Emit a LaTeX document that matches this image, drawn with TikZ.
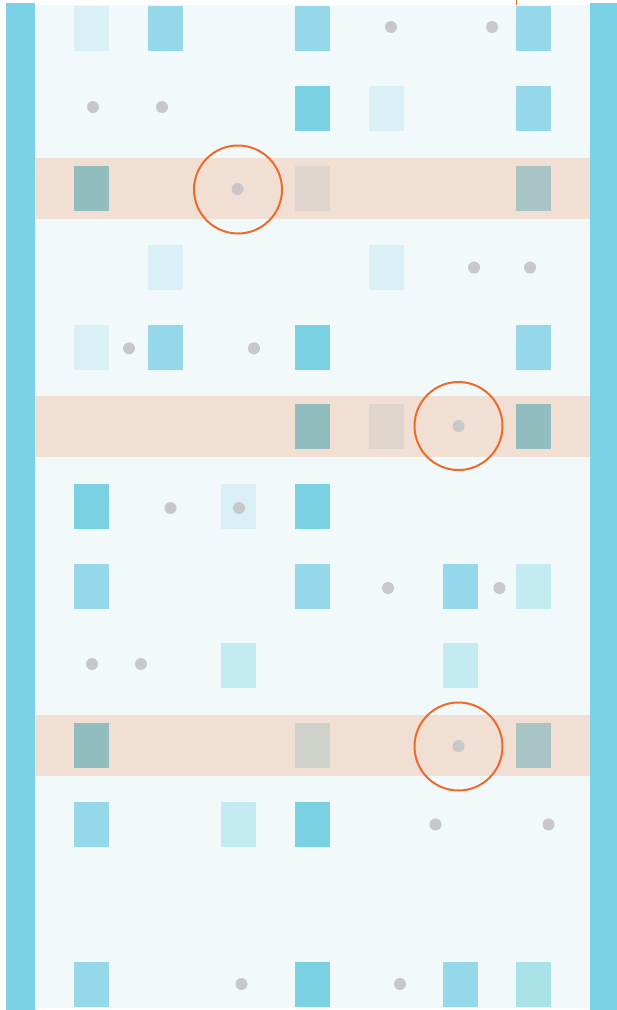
\documentclass[tikz,border=0pt]{standalone}
\definecolor{barc}{HTML}{7BD1E5}
\definecolor{bgc}{HTML}{F1F9FB}
\definecolor{bandc}{HTML}{F2DFD3}
\definecolor{palec}{HTML}{D9F1F6}
\definecolor{medc}{HTML}{95D8EA}
\definecolor{strongc}{HTML}{7AD1E4}
\definecolor{lightc}{HTML}{C4EBF1}
\definecolor{aquac}{HTML}{AAE2EA}
\definecolor{tealc}{HTML}{91BDBE}
\definecolor{beigec}{HTML}{DFD5CC}
\definecolor{greytealc}{HTML}{A9C4C5}
\definecolor{greyishc}{HTML}{CED2CB}
\definecolor{dotc}{HTML}{C8C8C8}
\definecolor{orangec}{HTML}{EE6A2A}
\begin{document}
\begin{tikzpicture}[x=1pt,y=-1pt,
  cell/.style={rectangle,inner sep=0pt,minimum width=35pt,minimum height=45pt,draw=none},
  dot/.style={circle,inner sep=0pt,minimum size=12pt,fill=dotc,draw=none},
  ring/.style={circle,inner sep=0pt,minimum size=88pt,draw=orangec,line width=2pt},
  band/.style={fill=bandc},
  bar/.style={fill=barc}]
\useasboundingbox (0,0) rectangle (617,1010);
\fill[white] (0,0) rectangle (617,1010);
\fill[bgc] (35,5) rectangle (590,1007.5);
\fill[bar] (6,3) rectangle (35,1010);
\fill[bar] (590,3) rectangle (617,1010);
\draw[orangec,line width=0.8pt] (516.5,0) -- (516.5,4.5);
% bands
\fill[band] (35,158) rectangle (590,218.5);
\fill[band] (35,396) rectangle (590,457);
\fill[band] (35,715) rectangle (590,775.5);
% row 1
\node[cell,fill=palec] (r1a) at (91.5,28.5) {};
\node[cell,fill=medc] (r1b) at (165.5,28.5) {};
\node[cell,fill=medc] (r1d) at (312.5,28.5) {};
\node[dot] (d1a) at (391,27) {};
\node[dot] (d1b) at (492,27) {};
\node[cell,fill=medc] (r1g) at (533.5,28.5) {};
% row 2
\node[dot] (d2a) at (93,107) {};
\node[dot] (d2b) at (162,107) {};
\node[cell,fill=strongc] (r2d) at (312.5,108.1) {};
\node[cell,fill=palec] (r2e) at (386.5,108.1) {};
\node[cell,fill=medc] (r2g) at (533.5,108.1) {};
% row 3
\node[cell,fill=tealc] (r3a) at (91.5,188) {};
\node[dot] (d3a) at (237.5,189) {};
\node[ring] (c3) at (238,189.5) {};
\node[cell,fill=beigec] (r3d) at (312.5,188) {};
\node[cell,fill=greytealc] (r3g) at (533.5,188) {};
% row 4
\node[cell,fill=palec] (r4b) at (165.5,267.3) {};
\node[cell,fill=palec] (r4e) at (386.5,267.3) {};
\node[dot] (d4a) at (474,267.5) {};
\node[dot] (d4b) at (530,267.5) {};
% row 5
\node[cell,fill=palec] (r5a) at (91.5,347) {};
\node[dot] (d5a) at (129,348.3) {};
\node[cell,fill=medc] (r5b) at (165.5,347) {};
\node[dot] (d5b) at (254,348.3) {};
\node[cell,fill=strongc] (r5d) at (312.5,347) {};
\node[cell,fill=medc] (r5g) at (533.5,347) {};
% row 6
\node[cell,fill=tealc] (r6d) at (312.5,426.5) {};
\node[cell,fill=beigec] (r6e) at (386.5,426.5) {};
\node[dot] (d6a) at (458.5,426) {};
\node[ring] (c6) at (458.5,426) {};
\node[cell,fill=tealc] (r6g) at (533.5,426.5) {};
% row 7
\node[cell,fill=strongc] (r7a) at (91.5,506) {};
\node[dot] (d7a) at (170.5,508) {};
\node[cell,fill=palec] (r7c) at (238.5,506) {};
\node[dot] (d7b) at (239,508) {};
\node[cell,fill=strongc] (r7d) at (312.5,506) {};
% row 8
\node[cell,fill=medc] (r8a) at (91.5,586) {};
\node[cell,fill=medc] (r8d) at (312.5,586) {};
\node[dot] (d8a) at (388,588) {};
\node[cell,fill=medc] (r8f) at (460.5,586) {};
\node[dot] (d8b) at (499.5,588) {};
\node[cell,fill=lightc] (r8g) at (533.5,586) {};
% row 9
\node[dot] (d9a) at (92,664) {};
\node[dot] (d9b) at (141,664) {};
\node[cell,fill=lightc] (r9c) at (238.5,665.5) {};
\node[cell,fill=lightc] (r9f) at (460.5,665.5) {};
% row 10
\node[cell,fill=tealc] (r10a) at (91.5,745) {};
\node[cell,fill=greyishc] (r10d) at (312.5,745) {};
\node[dot] (d10a) at (458.5,746) {};
\node[ring] (c10) at (458.5,746.5) {};
\node[cell,fill=greytealc] (r10g) at (533.5,745) {};
% row 11
\node[cell,fill=medc] (r11a) at (91.5,824.5) {};
\node[cell,fill=lightc] (r11c) at (238.5,824.5) {};
\node[cell,fill=strongc] (r11d) at (312.5,824.5) {};
\node[dot] (d11a) at (435.5,824.5) {};
\node[dot] (d11b) at (548.5,824.5) {};
% row 13
\node[cell,fill=medc] (r13a) at (91.5,984) {};
\node[dot] (d13a) at (241.5,984) {};
\node[cell,fill=strongc] (r13d) at (312.5,984) {};
\node[dot] (d13b) at (400,984) {};
\node[cell,fill=medc] (r13f) at (460.5,984) {};
\node[cell,fill=aquac] (r13g) at (533.5,984) {};
\end{tikzpicture}
\end{document}
